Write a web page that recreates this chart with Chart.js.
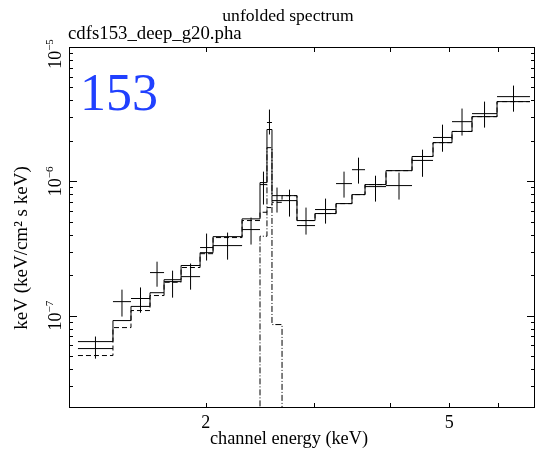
<!DOCTYPE html>
<html>
<head>
<meta charset="utf-8">
<script src="https://cdn.jsdelivr.net/npm/chart.js@4.4.1/dist/chart.umd.min.js"></script>
<style>
  html, body { margin: 0; padding: 0; background: #fff; }
  #wrap { position: relative; width: 535px; height: 456px; }
</style>
</head>
<body>
<div id="wrap"><canvas id="spec" width="535" height="456"></canvas></div>
<script>
// bin edges in keV (25 edges -> 24 channels)
const binEdges = [1.237, 1.411, 1.510, 1.622, 1.710, 1.823, 1.958, 2.056, 2.293, 2.453, 2.518, 2.566,
                  2.665, 2.819, 3.017, 3.265, 3.467, 3.641, 3.940, 4.345, 4.702, 5.050, 5.445, 5.982, 6.771];
// unfolded data and error range
const dataY  = [5.68e-8, 1.27e-7, 1.34e-7, 2.09e-7, 1.79e-7, 1.95e-7, 3.21e-7, 3.32e-7, 4.37e-7, 9.45e-7, 2.74e-6, 7.18e-7,
                7.18e-7, 4.68e-7, 6.16e-7, 9.61e-7, 1.22e-6, 9.13e-7, 9.29e-7, 1.43e-6, 2.12e-6, 2.78e-6, 3.19e-6, 4.27e-6];
const errTop = [6.98e-8, 1.56e-7, 1.62e-7, 2.52e-7, 2.16e-7, 2.44e-7, 4.08e-7, 4.15e-7, 5.37e-7, 1.18e-6, 3.42e-6, 8.98e-7,
                8.67e-7, 6.37e-7, 7.43e-7, 1.18e-6, 1.50e-6, 1.10e-6, 1.16e-6, 1.72e-6, 2.64e-6, 3.48e-6, 3.92e-6, 5.16e-6];
const errBot = [4.78e-8, 9.83e-8, 1.05e-7, 1.64e-7, 1.36e-7, 1.56e-7, 2.57e-7, 2.61e-7, 3.38e-7, 6.71e-7, 2.23e-6, 5.85e-7,
                5.46e-7, 4.01e-7, 4.84e-7, 7.56e-7, 9.61e-7, 7.06e-7, 7.31e-7, 1.08e-6, 1.66e-6, 2.19e-6, 2.51e-6, 3.30e-6];
// total model, power law component, gaussian line component
const modelY = [6.40e-8, 9.18e-8, 1.17e-7, 1.48e-7, 1.85e-7, 2.36e-7, 2.94e-7, 3.87e-7, 5.25e-7, 9.78e-7, 2.43e-6, 7.82e-7,
                7.82e-7, 5.10e-7, 5.75e-7, 6.82e-7, 7.96e-7, 9.45e-7, 1.20e-6, 1.53e-6, 1.94e-6, 2.35e-6, 3.03e-6, 3.92e-6];
const powY   = [5.04e-8, 8.14e-8, 1.09e-7, 1.41e-7, 1.77e-7, 2.28e-7, 2.89e-7, 3.81e-7, 5.10e-7, 5.88e-7, 6.37e-7, 6.97e-7,
                7.82e-7, 5.10e-7, 5.75e-7, 6.82e-7, 7.96e-7, 9.45e-7, 1.20e-6, 1.53e-6, 1.94e-6, 2.35e-6, 3.03e-6, 3.92e-6];
const gaussY = [null, null, null, null, null, null, null, null, 1e-10, 3.90e-7, 1.78e-6, 8.57e-8,
                1e-10, null, null, null, null, null, null, null, null, null, null, null];
const xTicks = [2, 3, 4, 5, 6];
const xTickLabels = {2: '2', 5: '5'};
const yDecades = [-8, -7, -6, -5];

function stepPoints(vals) {
    // point at each lower edge, plus the last upper edge; 'before' keeps y until the next edge
    const pts = vals.map((v, i) => ({x: binEdges[i], y: v}));
    pts.push({x: binEdges[vals.length], y: vals[vals.length - 1]});
    return pts;
}

const hBars = [], vBars = [];
dataY.forEach((v, i) => {
    const lo = binEdges[i], hi = binEdges[i + 1];
    const mid = Math.sqrt(lo * hi);
    hBars.push({x: lo, y: v}, {x: hi, y: v}, {x: hi, y: null});
    vBars.push({x: mid, y: errBot[i]}, {x: mid, y: errTop[i]}, {x: mid, y: null});
});

const lineBase = { borderColor: '#000', borderWidth: 1, pointRadius: 0, fill: false, spanGaps: false };

const frame = {
    id: 'frame',
    afterDraw(chart) {
        const {ctx, chartArea: a, scales} = chart;
        const x = scales.x, y = scales.y;
        ctx.save();
        ctx.strokeStyle = '#000';
        ctx.lineWidth = 1;
        ctx.strokeRect(a.left + 0.5, a.top + 0.5, a.right - a.left - 1, a.bottom - a.top - 1);
        ctx.beginPath();
        xTicks.forEach(v => {
            const px = Math.round(x.getPixelForValue(v)) + 0.5;
            ctx.moveTo(px, a.bottom); ctx.lineTo(px, a.bottom - 5);
            ctx.moveTo(px, a.top); ctx.lineTo(px, a.top + 5);
        });
        yDecades.forEach(d => {
            for (let m = 1; m <= 9; m++) {
                const v = m * Math.pow(10, d);
                if (v < y.min || v > y.max * 1.001) continue;
                const py = Math.round(y.getPixelForValue(v)) + 0.5;
                const len = m === 1 ? 8 : 4;
                ctx.moveTo(a.left, py); ctx.lineTo(a.left + len, py);
                ctx.moveTo(a.right, py); ctx.lineTo(a.right - len, py);
            }
        });
        ctx.stroke();

        ctx.fillStyle = '#000';
        ctx.textBaseline = 'alphabetic';
        ctx.textAlign = 'center';
        ctx.font = '17.6px "Liberation Serif"';
        ctx.fillText('unfolded spectrum', 288, 21);
        ctx.textAlign = 'left';
        ctx.font = '18.8px "Liberation Serif"';
        ctx.fillText('cdfs153_deep_g20.pha', 68, 39);

        ctx.textAlign = 'center';
        ctx.font = '18px "Liberation Serif"';
        Object.keys(xTickLabels).forEach(k => {
            ctx.fillText(xTickLabels[k], x.getPixelForValue(Number(k)), 428);
        });
        ctx.font = '18.3px "Liberation Serif"';
        ctx.fillText('channel energy (keV)', 289, 444);

        // rotated y tick labels 10^n
        yDecades.forEach(d => {
            const v = Math.pow(10, d);
            if (v < y.min || v > y.max * 1.001) return;
            let py = y.getPixelForValue(v);
            if (py < a.top + 7) py = a.top + 7;
            ctx.save();
            ctx.translate(61, py);
            ctx.rotate(-Math.PI / 2);
            ctx.font = '18px "Liberation Serif"';
            const w1 = ctx.measureText('10').width;
            ctx.font = '11px "Liberation Serif"';
            const exp = '\u2212' + Math.abs(d);
            const w2 = ctx.measureText(exp).width;
            const x0 = -(w1 + w2) / 2;
            ctx.textAlign = 'left';
            ctx.font = '18px "Liberation Serif"';
            ctx.fillText('10', x0, 0);
            ctx.font = '11px "Liberation Serif"';
            ctx.fillText(exp, x0 + w1, -8);
            ctx.restore();
        });

        ctx.save();
        ctx.translate(27, 248);
        ctx.rotate(-Math.PI / 2);
        ctx.textAlign = 'center';
        ctx.font = '19px "Liberation Serif"';
        ctx.fillText('keV (keV/cm\u00b2 s keV)', 0, 0);
        ctx.restore();

        ctx.fillStyle = '#2040ff';
        ctx.textAlign = 'left';
        ctx.font = '52px "Liberation Serif"';
        ctx.fillText('153', 80, 110);
        ctx.restore();
    }
};

new Chart(document.getElementById('spec'), {
    type: 'line',
    data: {
        datasets: [
            Object.assign({ data: stepPoints(modelY), stepped: 'before' }, lineBase),
            Object.assign({ data: stepPoints(powY), stepped: 'before', borderDash: [5, 3] }, lineBase),
            Object.assign({ data: stepPoints(gaussY), stepped: 'before', borderDash: [6, 2, 1, 2] }, lineBase),
            Object.assign({ data: hBars }, lineBase),
            Object.assign({ data: vBars }, lineBase)
        ]
    },
    options: {
        responsive: false,
        devicePixelRatio: 1,
        animation: false,
        layout: { padding: { left: 69, right: 0, top: 47, bottom: 48 } },
        plugins: { legend: { display: false }, tooltip: { enabled: false } },
        scales: {
            x: { type: 'logarithmic', min: 1.196, max: 6.90, display: false },
            y: { type: 'logarithmic', min: 2.05e-8, max: 1e-5, display: false }
        }
    },
    plugins: [frame]
});
</script>
</body>
</html>
